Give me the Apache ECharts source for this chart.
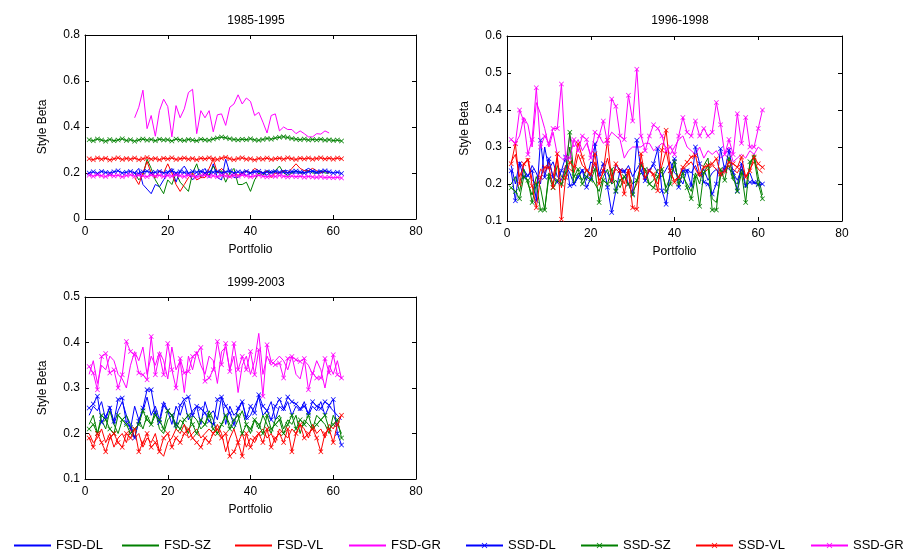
<!DOCTYPE html>
<html>
<head>
<meta charset="utf-8">
<script src="https://cdn.jsdelivr.net/npm/echarts@6/dist/echarts.min.js"></script>
<style>html,body{margin:0;padding:0;background:#fff}#c{width:920px;height:550px}</style>
</head>
<body>
<div id="c"></div>
<script>
// ---------- DATA ----------
const seriesNames = ['FSD-DL','FSD-SZ','FSD-VL','FSD-GR','SSD-DL','SSD-SZ','SSD-VL','SSD-GR'];
const panelTitles = ['1985-1995','1996-1998','1999-2003'];
const xTicks = [0,20,40,60,80];
const yRanges = [[0,0.8,0.2],[0.1,0.6,0.1],[0.1,0.5,0.1]];

// Panel 1 : 1985-1995 (FSD start at portfolio 12, SSD at 1)
const p1Start = {FSD:12, SSD:1};
const p1_FSD_DL = [0.2,0.22,0.15,0.13,0.11,0.15,0.14,0.17,0.2,0.22,0.16,0.21,0.23,0.2,0.17,0.19,0.2,0.22,0.18,0.24,0.18,0.17,0.26,0.2,0.18,0.18,0.2,0.19,0.2,0.21,0.2,0.2,0.19,0.21,0.2,0.2,0.21,0.21,0.2,0.2,0.2,0.21,0.22,0.21,0.2,0.2,0.21,0.2];
const p1_FSD_SZ = [0.2,0.17,0.19,0.26,0.22,0.17,0.14,0.11,0.17,0.15,0.2,0.16,0.14,0.12,0.2,0.24,0.18,0.2,0.19,0.23,0.2,0.21,0.16,0.2,0.22,0.15,0.15,0.16,0.12,0.17,0.2,0.19,0.21,0.2,0.21,0.23,0.2,0.19,0.2,0.21,0.2,0.2,0.21,0.2,0.2,0.21,0.2,0.2];
const p1_FSD_VL = [0.18,0.15,0.2,0.25,0.2,0.18,0.21,0.2,0.24,0.2,0.15,0.12,0.15,0.18,0.2,0.17,0.18,0.18,0.22,0.26,0.2,0.22,0.2,0.18,0.2,0.19,0.2,0.21,0.2,0.22,0.21,0.2,0.21,0.18,0.2,0.2,0.21,0.2,0.22,0.24,0.22,0.21,0.21,0.22,0.21,0.2,0.21,0.2];
const p1_FSD_GR = [0.44,0.486,0.56,0.393,0.45,0.36,0.471,0.521,0.489,0.357,0.493,0.44,0.479,0.55,0.564,0.371,0.471,0.44,0.471,0.379,0.453,0.457,0.407,0.486,0.5,0.54,0.5,0.526,0.511,0.45,0.464,0.421,0.374,0.45,0.457,0.383,0.4,0.389,0.389,0.371,0.383,0.371,0.357,0.357,0.371,0.369,0.383,0.374];
const p1_SSD_DL = [0.2,0.205,0.198,0.207,0.202,0.2,0.205,0.21,0.2,0.203,0.207,0.2,0.198,0.205,0.208,0.2,0.203,0.206,0.2,0.204,0.209,0.2,0.205,0.202,0.198,0.206,0.203,0.208,0.2,0.205,0.203,0.207,0.2,0.204,0.21,0.2,0.205,0.202,0.207,0.2,0.204,0.208,0.2,0.205,0.202,0.207,0.203,0.205,0.2,0.206,0.209,0.204,0.2,0.205,0.208,0.203,0.207,0.21,0.205,0.2,0.203,0.198];
const p1_SSD_SZ = [0.345,0.34,0.348,0.343,0.338,0.346,0.34,0.344,0.349,0.341,0.345,0.338,0.344,0.348,0.342,0.346,0.34,0.347,0.343,0.345,0.339,0.348,0.344,0.341,0.346,0.343,0.34,0.347,0.344,0.342,0.348,0.352,0.356,0.353,0.349,0.346,0.343,0.347,0.345,0.349,0.344,0.342,0.346,0.35,0.347,0.352,0.355,0.358,0.354,0.35,0.347,0.345,0.348,0.343,0.346,0.344,0.347,0.342,0.345,0.341,0.343,0.339];
const p1_SSD_VL = [0.262,0.258,0.265,0.26,0.264,0.257,0.262,0.266,0.259,0.263,0.26,0.265,0.258,0.262,0.267,0.26,0.263,0.258,0.264,0.261,0.266,0.259,0.262,0.265,0.26,0.263,0.258,0.264,0.261,0.266,0.262,0.259,0.264,0.268,0.262,0.258,0.263,0.266,0.26,0.262,0.257,0.263,0.26,0.265,0.259,0.262,0.264,0.26,0.266,0.262,0.259,0.264,0.261,0.265,0.26,0.263,0.266,0.261,0.264,0.26,0.265,0.262];
const p1_SSD_GR = [0.19,0.186,0.192,0.188,0.185,0.191,0.187,0.19,0.184,0.189,0.192,0.186,0.19,0.188,0.184,0.191,0.187,0.19,0.185,0.189,0.186,0.192,0.188,0.185,0.19,0.187,0.183,0.189,0.191,0.186,0.188,0.184,0.19,0.187,0.185,0.189,0.186,0.191,0.188,0.184,0.187,0.19,0.186,0.183,0.188,0.185,0.189,0.186,0.183,0.187,0.184,0.186,0.182,0.185,0.183,0.181,0.184,0.18,0.182,0.179,0.181,0.178];

// Panel 2 : 1996-1998
const p2Start = {FSD:1, SSD:1};
const p2_FSD_DL = [0.25,0.2,0.26,0.24,0.22,0.25,0.23,0.2,0.3,0.24,0.26,0.22,0.21,0.25,0.23,0.2,0.22,0.24,0.21,0.26,0.25,0.22,0.24,0.23,0.2,0.25,0.24,0.23,0.25,0.22,0.24,0.26,0.21,0.24,0.25,0.23,0.22,0.24,0.26,0.23,0.22,0.2,0.24,0.23,0.25,0.22,0.24,0.21,0.23,0.24,0.22,0.25,0.24,0.23,0.21,0.24,0.22,0.23,0.2,0.21,0.2];
const p2_FSD_SZ = [0.2,0.22,0.18,0.24,0.2,0.17,0.22,0.19,0.13,0.23,0.2,0.25,0.22,0.21,0.3,0.2,0.23,0.21,0.24,0.22,0.2,0.18,0.22,0.24,0.2,0.21,0.19,0.22,0.23,0.2,0.21,0.23,0.22,0.2,0.21,0.24,0.23,0.19,0.22,0.25,0.21,0.22,0.2,0.18,0.23,0.2,0.25,0.27,0.16,0.15,0.22,0.24,0.25,0.21,0.2,0.24,0.19,0.25,0.28,0.22,0.17];
const p2_FSD_VL = [0.26,0.28,0.22,0.25,0.27,0.21,0.2,0.24,0.23,0.26,0.22,0.27,0.19,0.25,0.24,0.23,0.28,0.25,0.24,0.22,0.26,0.21,0.23,0.27,0.22,0.24,0.23,0.2,0.24,0.18,0.2,0.26,0.23,0.24,0.22,0.2,0.25,0.29,0.23,0.21,0.22,0.24,0.25,0.26,0.24,0.22,0.23,0.24,0.25,0.24,0.22,0.23,0.25,0.24,0.23,0.25,0.22,0.24,0.26,0.24,0.23];
const p2_FSD_GR = [0.32,0.31,0.33,0.38,0.36,0.3,0.42,0.39,0.35,0.3,0.34,0.28,0.27,0.26,0.33,0.3,0.32,0.29,0.31,0.28,0.3,0.33,0.31,0.32,0.34,0.33,0.32,0.27,0.29,0.3,0.3,0.3,0.31,0.31,0.29,0.3,0.31,0.3,0.28,0.3,0.32,0.33,0.3,0.29,0.28,0.3,0.27,0.29,0.28,0.29,0.27,0.28,0.3,0.26,0.27,0.28,0.27,0.29,0.28,0.3,0.29];
const p2_SSD_DL = [0.236,0.155,0.255,0.218,0.223,0.236,0.155,0.318,0.218,0.268,0.218,0.205,0.236,0.273,0.195,0.2,0.218,0.236,0.191,0.214,0.309,0.227,0.255,0.191,0.123,0.182,0.236,0.236,0.2,0.173,0.318,0.236,0.209,0.236,0.255,0.295,0.182,0.145,0.236,0.268,0.191,0.236,0.236,0.195,0.3,0.255,0.205,0.2,0.173,0.2,0.295,0.236,0.291,0.232,0.182,0.255,0.195,0.205,0.205,0.198,0.2];
const p2_SSD_SZ = [0.19,0.18,0.16,0.22,0.21,0.15,0.2,0.13,0.13,0.22,0.19,0.21,0.2,0.23,0.34,0.22,0.24,0.2,0.22,0.21,0.24,0.15,0.21,0.2,0.24,0.18,0.21,0.22,0.2,0.17,0.21,0.25,0.24,0.2,0.19,0.22,0.24,0.18,0.2,0.26,0.2,0.23,0.19,0.16,0.22,0.14,0.23,0.25,0.13,0.13,0.24,0.21,0.27,0.22,0.18,0.23,0.15,0.26,0.27,0.2,0.16];
const p2_SSD_VL = [0.255,0.309,0.2,0.255,0.264,0.195,0.136,0.218,0.245,0.245,0.191,0.282,0.105,0.218,0.259,0.245,0.309,0.273,0.236,0.227,0.282,0.2,0.236,0.318,0.209,0.255,0.236,0.173,0.236,0.136,0.132,0.282,0.218,0.236,0.227,0.182,0.291,0.345,0.236,0.205,0.218,0.245,0.259,0.273,0.277,0.227,0.245,0.25,0.255,0.268,0.227,0.236,0.259,0.255,0.245,0.273,0.218,0.236,0.273,0.255,0.245];
const p2_SSD_GR = [0.32,0.31,0.4,0.37,0.28,0.32,0.46,0.3,0.33,0.31,0.35,0.35,0.47,0.27,0.27,0.32,0.29,0.33,0.32,0.27,0.34,0.33,0.37,0.31,0.43,0.41,0.33,0.32,0.44,0.37,0.51,0.33,0.29,0.33,0.36,0.35,0.33,0.29,0.3,0.28,0.33,0.38,0.34,0.33,0.37,0.33,0.35,0.33,0.34,0.42,0.36,0.28,0.32,0.28,0.39,0.31,0.38,0.3,0.3,0.35,0.4];

// Panel 3 : 1999-2003
const p3Start = {FSD:1, SSD:1};
const p3_FSD_DL = [0.24,0.26,0.25,0.27,0.23,0.26,0.22,0.25,0.27,0.24,0.21,0.26,0.23,0.25,0.28,0.24,0.26,0.23,0.27,0.25,0.22,0.26,0.24,0.27,0.23,0.25,0.26,0.22,0.27,0.24,0.25,0.23,0.28,0.22,0.26,0.24,0.25,0.27,0.23,0.24,0.26,0.28,0.24,0.25,0.27,0.23,0.26,0.25,0.27,0.24,0.26,0.25,0.27,0.24,0.26,0.25,0.27,0.24,0.26,0.25,0.24,0.23];
const p3_FSD_SZ = [0.22,0.24,0.2,0.23,0.21,0.25,0.22,0.2,0.23,0.24,0.22,0.19,0.23,0.21,0.24,0.22,0.25,0.21,0.2,0.23,0.24,0.21,0.23,0.22,0.2,0.24,0.23,0.21,0.22,0.25,0.23,0.2,0.22,0.24,0.22,0.21,0.23,0.25,0.22,0.2,0.23,0.21,0.24,0.22,0.2,0.23,0.24,0.21,0.23,0.22,0.24,0.2,0.23,0.22,0.21,0.24,0.23,0.22,0.2,0.24,0.22,0.2];
const p3_FSD_VL = [0.2,0.18,0.19,0.21,0.18,0.2,0.17,0.19,0.2,0.18,0.21,0.19,0.2,0.17,0.19,0.18,0.2,0.16,0.15,0.18,0.19,0.21,0.2,0.22,0.19,0.2,0.21,0.19,0.2,0.21,0.2,0.22,0.2,0.16,0.19,0.21,0.18,0.2,0.17,0.19,0.18,0.2,0.21,0.19,0.2,0.18,0.21,0.2,0.19,0.21,0.2,0.22,0.21,0.19,0.22,0.2,0.21,0.19,0.22,0.21,0.23,0.24];
const p3_FSD_GR = [0.33,0.36,0.31,0.35,0.34,0.37,0.36,0.33,0.32,0.3,0.35,0.38,0.36,0.39,0.33,0.37,0.35,0.38,0.36,0.32,0.39,0.34,0.36,0.29,0.37,0.34,0.38,0.35,0.33,0.37,0.36,0.31,0.38,0.39,0.34,0.37,0.29,0.35,0.37,0.33,0.36,0.42,0.33,0.37,0.35,0.36,0.37,0.36,0.34,0.37,0.33,0.32,0.36,0.35,0.33,0.36,0.34,0.3,0.35,0.33,0.36,0.32];
const p3_SSD_DL = [0.256,0.265,0.282,0.224,0.238,0.256,0.227,0.275,0.278,0.224,0.213,0.19,0.227,0.256,0.296,0.296,0.245,0.224,0.262,0.25,0.24,0.218,0.262,0.275,0.28,0.24,0.26,0.255,0.245,0.227,0.22,0.275,0.28,0.26,0.245,0.22,0.256,0.27,0.235,0.26,0.245,0.285,0.26,0.25,0.23,0.26,0.275,0.255,0.28,0.27,0.265,0.255,0.26,0.245,0.27,0.26,0.255,0.27,0.262,0.275,0.2,0.175];
const p3_SSD_SZ = [0.21,0.22,0.2,0.24,0.23,0.21,0.2,0.24,0.23,0.22,0.2,0.21,0.22,0.25,0.23,0.22,0.24,0.23,0.21,0.25,0.24,0.22,0.21,0.23,0.24,0.22,0.2,0.23,0.22,0.24,0.21,0.2,0.22,0.24,0.21,0.23,0.24,0.2,0.22,0.21,0.23,0.22,0.2,0.24,0.21,0.22,0.23,0.2,0.22,0.24,0.21,0.23,0.22,0.24,0.21,0.22,0.23,0.24,0.21,0.22,0.23,0.19];
const p3_SSD_VL = [0.19,0.17,0.2,0.18,0.16,0.19,0.2,0.18,0.17,0.2,0.19,0.21,0.16,0.18,0.2,0.17,0.18,0.16,0.19,0.2,0.17,0.19,0.18,0.2,0.21,0.19,0.18,0.17,0.19,0.18,0.2,0.21,0.19,0.2,0.15,0.16,0.18,0.15,0.2,0.17,0.19,0.2,0.18,0.21,0.17,0.19,0.2,0.18,0.21,0.16,0.2,0.22,0.19,0.2,0.21,0.19,0.16,0.2,0.21,0.18,0.22,0.24];
const p3_SSD_GR = [0.347,0.333,0.296,0.369,0.376,0.333,0.34,0.3,0.329,0.402,0.38,0.373,0.333,0.329,0.318,0.413,0.329,0.373,0.329,0.398,0.34,0.3,0.365,0.333,0.336,0.369,0.376,0.389,0.315,0.322,0.34,0.402,0.351,0.398,0.336,0.398,0.34,0.369,0.34,0.38,0.329,0.384,0.282,0.395,0.358,0.351,0.355,0.322,0.365,0.369,0.362,0.358,0.365,0.296,0.333,0.322,0.322,0.365,0.333,0.373,0.329,0.322];

const panels = [
  {start:p1Start, data:[p1_FSD_DL,p1_FSD_SZ,p1_FSD_VL,p1_FSD_GR,p1_SSD_DL,p1_SSD_SZ,p1_SSD_VL,p1_SSD_GR]},
  {start:p2Start, data:[p2_FSD_DL,p2_FSD_SZ,p2_FSD_VL,p2_FSD_GR,p2_SSD_DL,p2_SSD_SZ,p2_SSD_VL,p2_SSD_GR]},
  {start:p3Start, data:[p3_FSD_DL,p3_FSD_SZ,p3_FSD_VL,p3_FSD_GR,p3_SSD_DL,p3_SSD_SZ,p3_SSD_VL,p3_SSD_GR]}
];

// ---------- STYLE / LAYOUT ----------
const colors = ['#0000FF','#008000','#FF0000','#FF00FF','#0000FF','#008000','#FF0000','#FF00FF'];
const X_PATH = 'path://M0,1L1,0L5,4L9,0L10,1L6,5L10,9L9,10L5,6L1,10L0,9L4,5Z';
const FONT = 'Liberation Sans';
const grids = [
  {left:85, top:35, width:331, height:184},
  {left:507, top:36, width:335, height:185},
  {left:85, top:297, width:331, height:182}
];
const titlePos = [{x:251,y:10},{x:675,y:10},{x:251,y:272}];
const legendLeft = [8,116,229,343,460,575,690,805];

const fmt = v => String(+v.toFixed(2));
const xAxes = [], yAxes = [], series = [], titles = [], legends = [];
grids.forEach((g, gi) => {
  const base = {gridIndex:gi, type:'value', min:0, max:80, interval:20,
    axisLine:{show:true, onZero:false, lineStyle:{color:'#000', width:1}},
    axisTick:{show:true, inside:true, length:4, lineStyle:{color:'#000'}},
    splitLine:{show:false}};
  xAxes.push(Object.assign({}, base, {position:'bottom', name:'Portfolio', nameLocation:'middle', nameGap:25,
    nameTextStyle:{color:'#000', fontSize:12, fontFamily:FONT},
    axisLabel:{color:'#000', fontSize:12, fontFamily:FONT, margin:7, formatter:fmt}}));
  xAxes.push(Object.assign({}, base, {position:'top', axisLabel:{show:false}}));
  const [ymin, ymax, yint] = yRanges[gi];
  const yb = {gridIndex:gi, type:'value', min:ymin, max:ymax, interval:yint,
    axisLine:{show:true, onZero:false, lineStyle:{color:'#000', width:1}},
    axisTick:{show:true, inside:true, length:4, lineStyle:{color:'#000'}},
    splitLine:{show:false}};
  yAxes.push(Object.assign({}, yb, {position:'left', name:'Style Beta', nameLocation:'middle', nameGap:36, nameRotate:90,
    nameTextStyle:{color:'#000', fontSize:12, fontFamily:FONT},
    axisLabel:{color:'#000', fontSize:12, fontFamily:FONT, margin:5, formatter:fmt}}));
  yAxes.push(Object.assign({}, yb, {position:'right', axisLabel:{show:false}}));
  titles.push({text:panelTitles[gi], left:titlePos[gi].x, top:titlePos[gi].y, textAlign:'center',
    textStyle:{fontSize:12, fontWeight:'normal', color:'#000', fontFamily:FONT}});
  const p = panels[gi];
  seriesNames.forEach((nm, si) => {
    const isSSD = si >= 4;
    const st = isSSD ? p.start.SSD : p.start.FSD;
    series.push({
      type:'line', name:nm, xAxisIndex:gi*2, yAxisIndex:gi*2,
      data:p.data[si].map((v, i) => [st + i, v]),
      symbol: isSSD ? X_PATH : 'circle', symbolSize:5, showSymbol:isSSD, showAllSymbol:true,
      lineStyle:{color:colors[si], width:1},
      itemStyle: isSSD ? {color:colors[si]} : {color:colors[si], opacity:0},
      emphasis:{disabled:true}, animation:false, z: 2 + si
    });
  });
});
seriesNames.forEach((nm, si) => {
  legends.push({
    data:[nm],
    left:legendLeft[si], top:534,
    itemWidth:37, itemHeight:7, itemGap:0,
    textStyle:{color:'#000', fontSize:13, fontFamily:FONT}, selectedMode:false});
});

const chart = echarts.init(document.getElementById('c'), null, {renderer:'canvas'});
chart.setOption({
  animation:false, backgroundColor:'#fff',
  title:titles, legend:legends, grid:grids, xAxis:xAxes, yAxis:yAxes, series:series
});
</script>
</body>
</html>
